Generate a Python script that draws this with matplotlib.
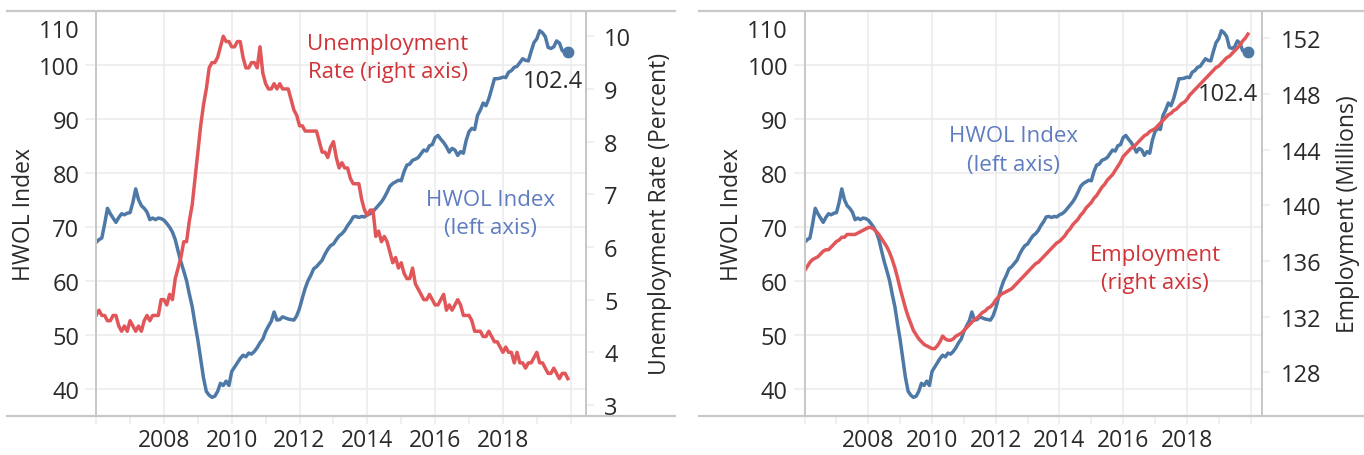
#
# HWOL index against unemployment rate and payroll employment, 2006-2019.
#

import numpy as np
import pandas as pd
import matplotlib
matplotlib.use('Agg')
import matplotlib.pyplot as plt
from matplotlib.lines import Line2D
from matplotlib.transforms import ScaledTranslation

plt.rcParams['font.family'] = ['Open Sans', 'DejaVu Sans']

# monthly data, Jan 2006 - Dec 2019

hwol = [
    67.1, 67.6, 67.9, 70.5, 73.4, 72.4, 71.6, 70.8, 71.7, 72.4, 72.2, 72.5,
    72.6, 74.5, 77.0, 75.0, 73.9, 73.4, 72.7, 71.3, 71.6, 71.3, 71.6, 71.5,
    71.2, 70.6, 69.9, 69.0, 67.6, 65.5, 63.5, 61.8, 60.0, 57.5, 55.2, 52.0,
    49.0, 45.5, 42.0, 39.5, 38.8, 38.4, 38.6, 39.5, 41.0, 40.6, 41.4, 40.6,
    43.2, 44.0, 44.8, 45.6, 46.2, 45.9, 46.6, 46.4, 46.9, 47.6, 48.5, 49.2,
    50.6, 51.6, 52.5, 54.2, 52.7, 52.8, 53.3, 53.1, 52.9, 52.8, 52.7, 53.5,
    54.9, 56.8, 58.6, 60.0, 61.0, 62.2, 62.6, 63.2, 63.8, 64.9, 65.8, 66.5,
    66.8, 67.6, 68.3, 68.7, 69.3, 70.2, 70.9, 71.8, 71.9, 71.7, 71.9, 71.8,
    72.2, 72.4, 72.8, 73.4, 74.0, 74.6, 75.4, 76.4, 77.5, 78.0, 78.3, 78.6,
    78.5, 80.2, 81.4, 81.6, 82.3, 82.5, 82.8, 83.5, 84.2, 84.0, 85.0, 85.2,
    86.5, 86.9, 86.2, 85.6, 84.8, 83.8, 84.5, 84.2, 83.2, 83.9, 83.6, 86.0,
    87.6, 88.2, 88.0, 90.6, 91.6, 92.9, 92.4, 93.7, 95.5, 97.4, 97.4, 97.5,
    97.7, 97.6, 98.6, 98.9, 99.5, 99.7, 100.4, 101.1, 100.8, 100.7, 102.5, 104.1,
    104.8, 106.3, 105.9, 105.2, 103.2, 103.0, 103.3, 104.4, 104.0, 102.6, 102.3, 102.4,
]

unemployment = [
    4.7, 4.8, 4.7, 4.7, 4.6, 4.6, 4.7, 4.7, 4.5, 4.4, 4.5, 4.4,
    4.6, 4.5, 4.4, 4.5, 4.4, 4.6, 4.7, 4.6, 4.7, 4.7, 4.7, 5.0,
    5.0, 4.9, 5.1, 5.0, 5.4, 5.6, 5.8, 6.1, 6.1, 6.5, 6.8, 7.3,
    7.8, 8.3, 8.7, 9.0, 9.4, 9.5, 9.5, 9.6, 9.8, 10.0, 9.9, 9.9,
    9.8, 9.8, 9.9, 9.9, 9.6, 9.4, 9.4, 9.5, 9.5, 9.4, 9.8, 9.3,
    9.1, 9.0, 9.0, 9.1, 9.0, 9.1, 9.0, 9.0, 9.0, 8.8, 8.6, 8.5,
    8.3, 8.3, 8.2, 8.2, 8.2, 8.2, 8.2, 8.0, 7.8, 7.8, 7.7, 7.9,
    8.0, 7.7, 7.5, 7.6, 7.5, 7.5, 7.3, 7.2, 7.2, 7.2, 6.9, 6.7,
    6.6, 6.7, 6.7, 6.2, 6.3, 6.1, 6.2, 6.1, 5.9, 5.7, 5.8, 5.6,
    5.7, 5.5, 5.4, 5.4, 5.6, 5.3, 5.2, 5.1, 5.0, 5.0, 5.1, 5.0,
    4.9, 4.9, 5.0, 5.1, 4.8, 4.9, 4.8, 4.9, 5.0, 4.9, 4.7, 4.7,
    4.7, 4.6, 4.4, 4.4, 4.4, 4.3, 4.3, 4.4, 4.3, 4.2, 4.2, 4.1,
    4.0, 4.1, 4.0, 4.0, 3.8, 4.0, 3.8, 3.8, 3.7, 3.8, 3.8, 3.9,
    4.0, 3.8, 3.8, 3.7, 3.6, 3.6, 3.7, 3.6, 3.5, 3.6, 3.6, 3.5,
]

employment = [
    135.3, 135.6, 135.9, 136.1, 136.2, 136.3, 136.5, 136.7, 136.8, 136.8, 137.0, 137.2,
    137.4, 137.5, 137.7, 137.7, 137.9, 137.9, 137.9, 137.9, 138.0, 138.1, 138.2, 138.3,
    138.4, 138.4, 138.3, 138.1, 137.9, 137.6, 137.3, 137.0, 136.6, 136.1, 135.5, 134.8,
    134.0, 133.3, 132.6, 132.0, 131.5, 131.0, 130.7, 130.4, 130.2, 130.0, 129.9, 129.8,
    129.7, 129.7, 129.9, 130.2, 130.6, 130.4, 130.3, 130.3, 130.4, 130.6, 130.7, 130.8,
    131.0, 131.2, 131.4, 131.6, 131.8, 131.9, 132.1, 132.3, 132.4, 132.6, 132.7, 132.9,
    133.2, 133.4, 133.6, 133.7, 133.8, 133.9, 134.0, 134.2, 134.4, 134.6, 134.8, 135.0,
    135.2, 135.4, 135.6, 135.8, 135.9, 136.1, 136.3, 136.5, 136.7, 136.9, 137.1, 137.3,
    137.4, 137.6, 137.8, 138.1, 138.3, 138.6, 138.8, 139.0, 139.3, 139.5, 139.8, 140.0,
    140.2, 140.5, 140.7, 141.0, 141.3, 141.5, 141.8, 142.0, 142.2, 142.5, 142.8, 143.1,
    143.5, 143.7, 143.9, 144.1, 144.2, 144.4, 144.6, 144.8, 145.0, 145.1, 145.3, 145.4,
    145.5, 145.7, 145.9, 146.1, 146.3, 146.5, 146.6, 146.8, 146.9, 147.1, 147.3, 147.4,
    147.6, 147.9, 148.1, 148.3, 148.5, 148.7, 148.9, 149.1, 149.3, 149.5, 149.7, 149.9,
    150.0, 150.2, 150.4, 150.6, 150.7, 150.9, 151.1, 151.3, 151.5, 151.8, 152.0, 152.3,
]

months = pd.date_range('2006-01-01', periods=len(hwol), freq='MS')
x = months.year + (months.month - 1) / 12

year_ticks = list(range(2006, 2021, 2))
year_labels = ['' if y in (2006, 2020) else str(y) for y in year_ticks]
hwol_ticks = [40, 50, 60, 70, 80, 90, 100, 110]
unemp_ticks = [3, 4, 5, 6, 7, 8, 9, 10]
emp_ticks = [128, 132, 136, 140, 144, 148, 152]

BLUE = '#4e79a7'
RED = '#e15759'
BLUE_TXT = '#5f7cc0'
RED_TXT = '#cf3338'
GRID = '#ececec'
AXIS = '#c8c8c8'
TXT = '#2a2a2a'
FS = 17      # tick labels
FT = 16.5    # axis titles
FA = 16      # annotations
LW = 2.5


fig = plt.figure(figsize=(13.64, 4.56), dpi=100)


def setup(ax, ax2, xmax):
    ax.set_xlim(2006, xmax)
    ax.set_ylim(35, 110)
    ax.set_xticks(year_ticks)
    ax.set_xticklabels(year_labels)
    ax.set_xticks(range(2007, 2021, 2), minor=True)
    ax.set_yticks(hwol_ticks)
    ax.grid(True, color=GRID, lw=1.2)
    ax.set_axisbelow(True)
    for a in (ax, ax2):
        for s in ('top', 'bottom'):
            a.spines[s].set_visible(False)
        for s in ('left', 'right'):
            a.spines[s].set_color(AXIS)
            a.spines[s].set_linewidth(1.4)
    ax.tick_params(axis='x', which='both', length=6, color=GRID, width=1.2,
                   labelsize=FS - 0.5, labelcolor=TXT, pad=3)
    ax.tick_params(axis='y', length=8, color=GRID, width=1.2,
                   labelsize=FS, labelcolor=TXT, pad=4)
    ax2.tick_params(axis='y', length=6, color=GRID, width=1.2,
                    labelsize=FS, labelcolor=TXT, pad=7)
    ax.set_ylabel('HWOL Index', fontsize=FT, color=TXT, labelpad=2)
    # top label sits inside the frame, like the original
    lbl = ax.yaxis.get_major_ticks()[-1].label1
    lbl.set_verticalalignment('top')
    lbl.set_transform(lbl.get_transform() +
                      ScaledTranslation(0, -6 / 72, fig.dpi_scale_trans))


def frame(x0, x1, bottom, top):
    for yy in (bottom, top):
        fig.add_artist(Line2D([x0, x1], [yy, yy], transform=fig.transFigure,
                              color=AXIS, lw=1.6))


bottom, height = 0.0862, 0.8882
top = bottom + height

# left panel: HWOL vs unemployment rate
ax1 = fig.add_axes([0.0705, bottom, 0.3591, height])
ax1b = ax1.twinx()
ax1.plot(x, hwol, color=BLUE, lw=LW)
ax1.plot(x[-1], hwol[-1], 'o', color=BLUE, ms=7.5)
ax1b.plot(x, unemployment, color=RED, lw=LW)
ax1b.set_ylim(2.797, 10.486)
ax1b.set_yticks(unemp_ticks)
setup(ax1, ax1b, 2020.45)
ax1b.set_ylabel('Unemployment Rate (Percent)', fontsize=FT, color=TXT, labelpad=12)
ax1.text(2019.47, 97.0, '102.4', fontsize=FS, color=TXT, ha='center', va='center')
ax1.text(2014.6, 101.4, 'Unemployment\nRate (right axis)', fontsize=FA,
         color=RED_TXT, ha='center', va='center', linespacing=1.45)
ax1.text(2017.62, 72.4, 'HWOL Index\n(left axis)', fontsize=FA,
         color=BLUE_TXT, ha='center', va='center', linespacing=1.45)
frame(0.0051, 0.4949, bottom, top)

# right panel: HWOL vs employment
ax2 = fig.add_axes([0.5899, bottom, 0.3356, height])
ax2b = ax2.twinx()
ax2.plot(x, hwol, color=BLUE, lw=LW)
ax2.plot(x[-1], hwol[-1], 'o', color=BLUE, ms=7.5)
ax2b.plot(x, employment, color=RED, lw=LW)
ax2b.set_ylim(124.88, 153.98)
ax2b.set_yticks(emp_ticks)
setup(ax2, ax2b, 2020.37)
ax2b.set_ylabel('Employment (Millions)', fontsize=FT, color=TXT, labelpad=11)
ax2.text(2019.29, 94.6, '102.4', fontsize=FS, color=TXT, ha='center', va='center')
ax2.text(2012.57, 84.2, 'HWOL Index\n(left axis)', fontsize=FA,
         color=BLUE_TXT, ha='center', va='center', linespacing=1.45)
ax2.text(2017.0, 62.2, 'Employment\n(right axis)', fontsize=FA,
         color=RED_TXT, ha='center', va='center', linespacing=1.45)
frame(0.5125, 1.0, bottom, top)

fig.savefig('out.png', dpi=100)
